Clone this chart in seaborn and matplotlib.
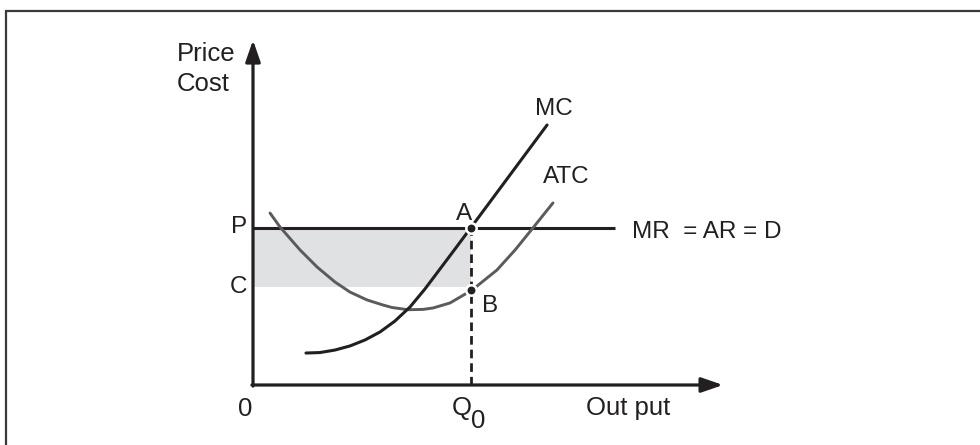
import numpy as np
import pandas as pd
import matplotlib
matplotlib.use("Agg")
import matplotlib.pyplot as plt
import seaborn as sns
from matplotlib.lines import Line2D

# ---------------- data ----------------
mc_q = [2.43, 3.07, 3.76, 4.45, 5.14, 5.83, 6.51, 7.20, 7.89, 8.58, 9.27, 10.0, 13.49]
mc_cost = [2.03, 2.06, 2.22, 2.48, 2.86, 3.37, 4.06, 4.95, 6.10, 7.37, 8.64, 10.0, 16.51]

atc_q = [0.78, 1.24, 2.16, 2.94, 3.76, 4.45, 5.23, 5.96, 6.38, 7.11, 7.80, 8.26, 9.04, 10.05, 11.19, 12.02, 12.84, 13.76]
atc_cost = [10.92, 10.03, 8.57, 7.49, 6.54, 5.90, 5.40, 5.08, 4.92, 4.78, 4.80, 4.89, 5.21, 6.03, 7.30, 8.57, 9.97, 11.56]

price_p = 10.0        # P = MR = AR = D
cost_c = 6.2          # C (ATC at Q0)
q0 = 10.0             # profit-maximising output
point_a = (10.0, 10.0)
point_b = (10.0, 6.05)
mr_end = 16.6
x_axis_end = 21.56
y_axis_end = 21.9

curve_labels = ["MC", "ATC", "MR  = AR = D"]
axis_labels = ["Price", "Cost", "Out put"]
tick_labels = ["P", "C", "0", "Q", "0"]
point_labels = ["A", "B"]

# ---------------- style ----------------
sns.set_theme(style="white")
plt.rcParams["font.family"] = ["Liberation Sans", "DejaVu Sans"]
INK = "#231f20"
GREY = "#5b5b5d"
SHADE = "#e0e1e3"
FS = 17.5
FS_AX = 18.5

fig = plt.figure(figsize=(9.8, 4.45), dpi=100)
ax = fig.add_axes([0, 0, 1, 1])
ax.set_xlim(-253 / 21.8, (980 - 253) / 21.8)
ax.set_ylim(-(445 - 385) / 15.75, 385 / 15.75)
ax.axis("off")

# frame around the figure (top and left edges)
fig.add_artist(Line2D([5.5 / 980, 1.0], [1 - 10.5 / 445] * 2, transform=fig.transFigure,
                      color="#3a3a3a", lw=1.6))
fig.add_artist(Line2D([5.5 / 980] * 2, [0, 1 - 10.5 / 445], transform=fig.transFigure,
                      color="#3a3a3a", lw=1.6))

# shaded profit area
ax.fill_between([0, q0], [cost_c, cost_c], [price_p, price_p], color=SHADE, lw=0, zorder=1)

# axes with arrows
arrow_style = "-|>,head_length=1.3,head_width=0.45"
ax.annotate("", xy=(0, y_axis_end), xytext=(0, -0.07),
            arrowprops=dict(arrowstyle=arrow_style, lw=2.3, color=INK,
                            shrinkA=0, shrinkB=0, mutation_scale=10), zorder=5)
ax.annotate("", xy=(x_axis_end, 0), xytext=(-0.05, 0),
            arrowprops=dict(arrowstyle=arrow_style, lw=2.3, color=INK,
                            shrinkA=0, shrinkB=0, mutation_scale=10), zorder=5)

# MR = AR = D line
ax.plot([0, mr_end], [price_p, price_p], color=INK, lw=2.2, solid_capstyle="butt", zorder=3)

# cost curves
mc_df = pd.DataFrame({"q": mc_q, "cost": mc_cost})
atc_df = pd.DataFrame({"q": atc_q, "cost": atc_cost})
sns.lineplot(data=atc_df, x="q", y="cost", ax=ax, color=GREY, lw=2.1, sort=False,
             estimator=None, zorder=3)
sns.lineplot(data=mc_df, x="q", y="cost", ax=ax, color=INK, lw=2.2, sort=False,
             estimator=None, zorder=4)

# dashed drop line at Q0
ax.plot([q0, q0], [0, price_p], color=INK, lw=2.0, ls=(0, (3.1, 1.8)), zorder=3)

# points A and B
ax.plot([point_a[0], point_b[0]], [point_a[1], point_b[1]], ls="none", marker="o",
        ms=7.5, mfc=INK, mec="white", mew=1.8, zorder=6)

# labels
txt = dict(color=INK, fontsize=FS, va="baseline")
txt_ax = dict(color=INK, fontsize=FS_AX, va="baseline")
ax.text(-3.49, 20.57, axis_labels[0], ha="left", **txt_ax)
ax.text(-3.49, 18.67, axis_labels[1], ha="left", **txt_ax)
ax.text(15.28, -1.90, axis_labels[2], ha="left", **txt_ax)
ax.text(-0.28, 9.65, tick_labels[0], ha="right", **txt)
ax.text(-0.28, 5.84, tick_labels[1], ha="right", **txt)
ax.text(-0.69, -1.95, tick_labels[2], ha="left", **txt_ax)
ax.text(9.10, -1.90, tick_labels[3], ha="left", **txt_ax)
ax.text(10.0, -2.73, tick_labels[4], ha="left", **txt_ax)
ax.text(9.68, 10.48, point_labels[0], ha="center", **txt)
ax.text(10.5, 4.63, point_labels[1], ha="left", **txt)
ax.text(12.94, 17.14, curve_labels[0], ha="left", **txt)
ax.text(13.30, 12.83, curve_labels[1], ha="left", **txt)
ax.text(17.39, 9.33, curve_labels[2], ha="left", **txt)

fig.savefig("out.png", dpi=100)
